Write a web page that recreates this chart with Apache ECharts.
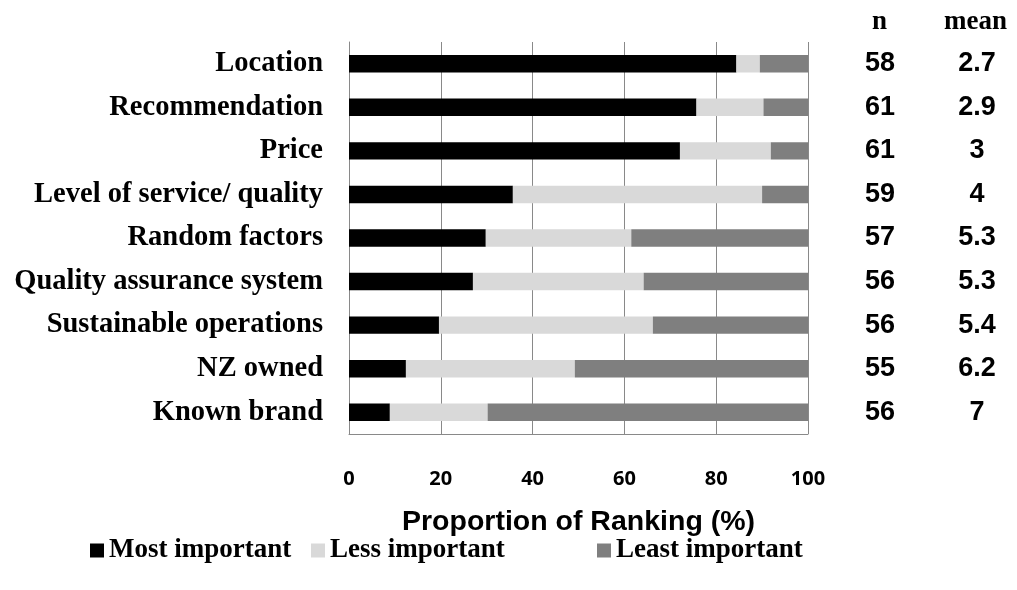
<!DOCTYPE html>
<html>
<head>
<meta charset="utf-8">
<script src="https://cdn.jsdelivr.net/npm/echarts@6/dist/echarts.min.js"></script>
<style>html,body{margin:0;padding:0;background:#fff}#c{width:1017px;height:590px}</style>
</head>
<body>
<div id="c"></div>
<script>
const categories = ["Location","Recommendation","Price","Level of service/ quality","Random factors","Quality assurance system","Sustainable operations","NZ owned","Known brand"];
const mostImportant = [84.4, 75.7, 72.1, 35.7, 29.8, 27.0, 19.6, 12.4, 8.9];
const lessImportant = [5.1, 14.6, 19.8, 54.3, 31.7, 37.2, 46.6, 36.8, 21.3];
const leastImportant = [10.5, 9.7, 8.1, 10.0, 38.5, 35.8, 33.8, 50.8, 69.8];
const nValues = ["58","61","61","59","57","56","56","55","56"];
const meanValues = ["2.7","2.9","3","4","5.3","5.3","5.4","6.2","7"];
const xTicks = [0, 20, 40, 60, 80, 100];

const chart = echarts.init(document.getElementById('c'), null, {renderer: 'canvas'});
const serif = "'Liberation Serif', 'Times New Roman', serif";
const sans = "'Liberation Sans', Arial, sans-serif";
const gridCol = '#898989';
const legendText = {fontFamily: serif, fontWeight: 'bold', fontSize: 27, color: '#000'};
function mkLegend(name, left) {
  return {data: [name], left: left, top: 537, itemWidth: 14, itemHeight: 14, itemGap: 3,
    icon: 'rect', textStyle: legendText, selectedMode: false, padding: 0};
}
const option = {
  animation: false,
  grid: {left: 349, right: 209, top: 42, bottom: 156, containLabel: false},
  xAxis: {
    type: 'value', min: xTicks[0], max: xTicks[xTicks.length - 1], interval: 20,
    axisLine: {show: true, lineStyle: {color: gridCol, width: 1}},
    axisTick: {show: false},
    splitLine: {show: true, lineStyle: {color: gridCol, width: 1}},
    axisLabel: {margin: 35, fontFamily: "'Open Sans', sans-serif", fontWeight: 'bold', fontSize: 20, color: '#000'},
    name: 'Proportion of Ranking (%)', nameLocation: 'middle', nameGap: 74,
    nameTextStyle: {fontFamily: sans, fontWeight: 'bold', fontSize: 28.5, color: '#000', padding: [0, 0, 0, 0]}
  },
  yAxis: [
    {
      type: 'category', data: categories, inverse: true,
      axisLine: {show: true, lineStyle: {color: gridCol, width: 1}},
      axisTick: {show: false},
      axisLabel: {margin: 26, fontFamily: serif, fontWeight: 'bold', fontSize: 28.5, color: '#000'}
    },
    {
      type: 'category', data: nValues, inverse: true, position: 'right',
      axisLine: {show: false}, axisTick: {show: false}, splitLine: {show: false},
      axisLabel: {margin: 72, align: 'center', fontFamily: sans, fontWeight: 'bold', fontSize: 27, color: '#000'}
    },
    {
      type: 'category', data: meanValues, inverse: true, position: 'right',
      axisLine: {show: false}, axisTick: {show: false}, splitLine: {show: false},
      axisLabel: {margin: 169, align: 'center', fontFamily: sans, fontWeight: 'bold', fontSize: 27, color: '#000'}
    }
  ],
  legend: [mkLegend('Most important', 90), mkLegend('Less important', 311), mkLegend('Least important', 597)],
  graphic: [
    {type: 'text', left: 872, top: 9, style: {text: 'n', font: "bold 27px " + serif, fill: '#000'}},
    {type: 'text', left: 944, top: 9, style: {text: 'mean', font: "bold 27px " + serif, fill: '#000'}}
  ],
  series: [
    {name: 'Most important', type: 'bar', stack: 's', data: mostImportant, barCategoryGap: '60%', itemStyle: {color: '#000000'}},
    {name: 'Less important', type: 'bar', stack: 's', data: lessImportant, itemStyle: {color: '#d9d9d9'}},
    {name: 'Least important', type: 'bar', stack: 's', data: leastImportant, itemStyle: {color: '#7f7f7f'}}
  ]
};
chart.setOption(option);
</script>
</body>
</html>
